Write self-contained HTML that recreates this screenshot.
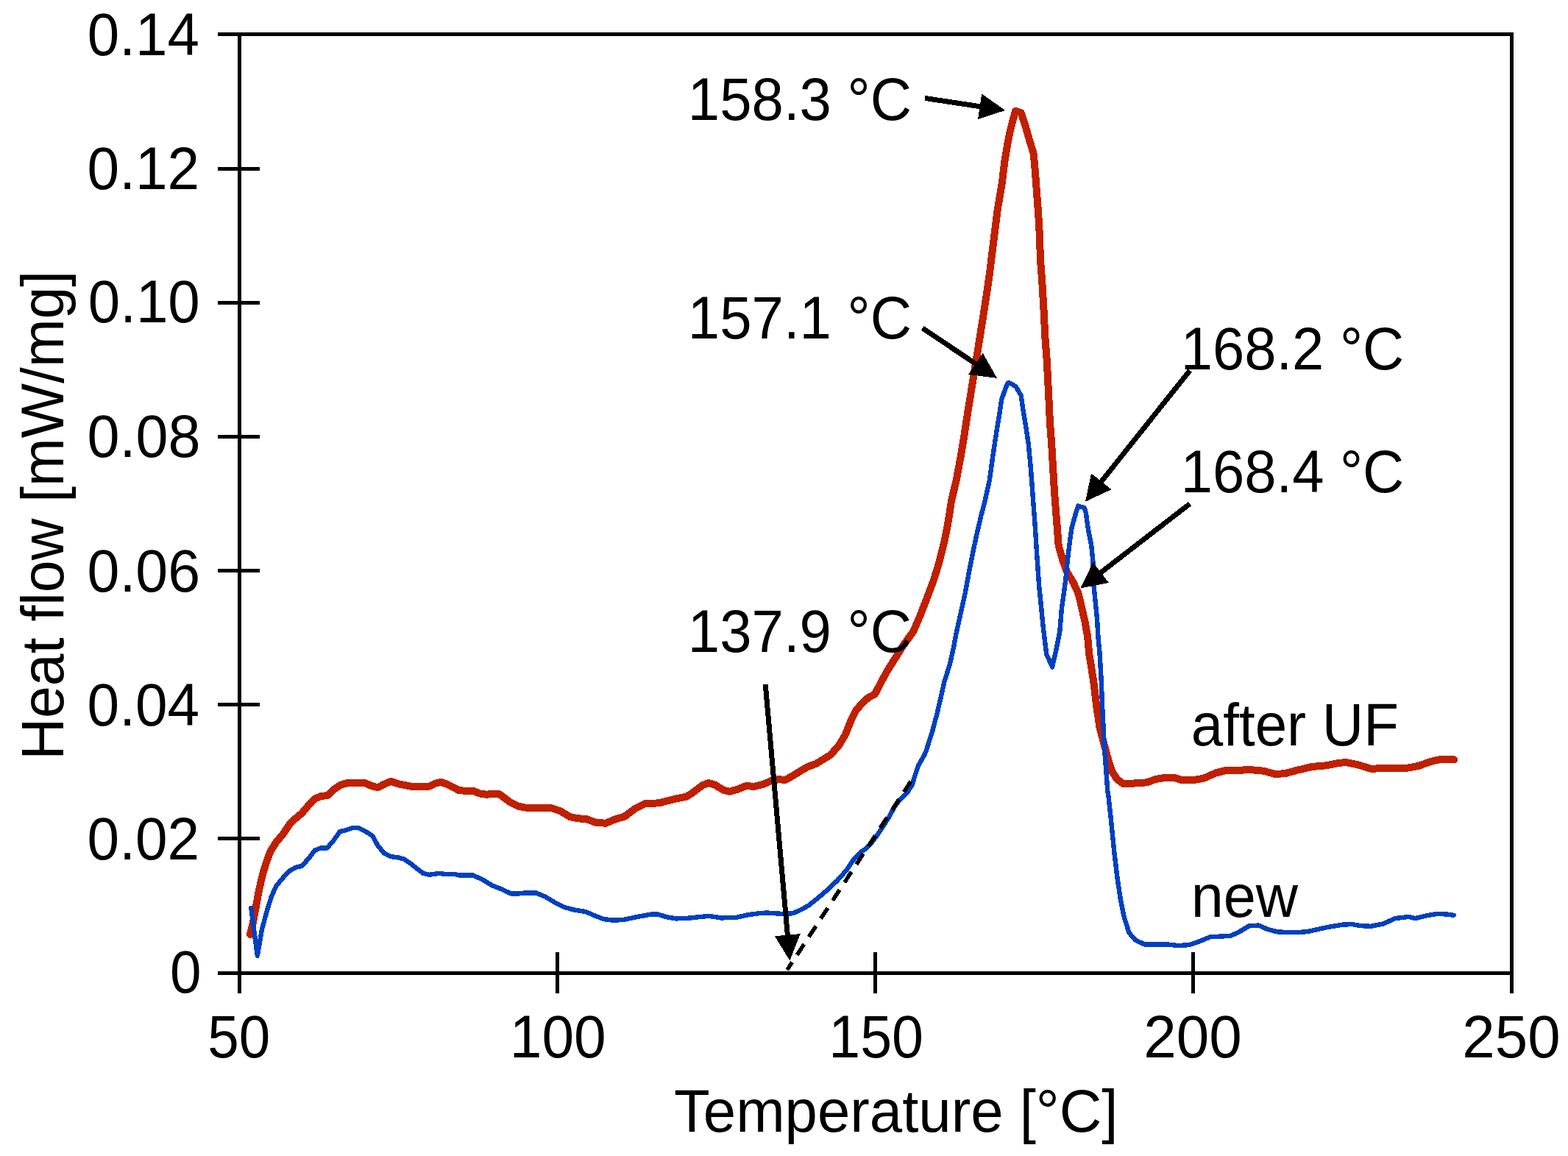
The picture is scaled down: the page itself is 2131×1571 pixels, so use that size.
<!DOCTYPE html>
<html lang="en">
<head>
<meta charset="utf-8">
<title>Heat flow vs. Temperature</title>
<style>
html,body{margin:0;padding:0;background:#fff;}
body{width:2131px;height:1571px;overflow:hidden;}
svg{display:block;}
text{font-family:"Liberation Sans", Arial, Helvetica, sans-serif;font-size:80px;fill:#000;}
</style>
</head>
<body>
<svg width="2131" height="1571" viewBox="0 0 2131 1571">
<rect x="0" y="0" width="2131" height="1571" fill="#ffffff"/>
<g shape-rendering="crispEdges" fill="#000">
<rect x="296" y="44" width="1761" height="5"/>
<rect x="296" y="1320" width="1761" height="5"/>
<rect x="323" y="44" width="5" height="1306"/>
<rect x="2052" y="44" width="5" height="1306"/>
<rect x="296" y="227" width="57" height="5"/>
<rect x="296" y="409" width="57" height="5"/>
<rect x="296" y="591" width="57" height="5"/>
<rect x="296" y="773" width="57" height="5"/>
<rect x="296" y="955" width="57" height="5"/>
<rect x="296" y="1137" width="57" height="5"/>
<rect x="755" y="1294" width="5" height="56"/>
<rect x="1187" y="1294" width="5" height="56"/>
<rect x="1619" y="1294" width="5" height="56"/>
</g>
<g shape-rendering="crispEdges">
<polyline points="340.0,1270.0 343.6,1254.8 347.2,1236.2 350.8,1216.1 354.4,1199.0 358.0,1184.6 363.0,1168.9 368.0,1156.0 375.9,1143.8 384.4,1133.8 393.0,1120.9 401.6,1112.3 410.2,1105.2 418.8,1095.1 427.4,1085.8 436.0,1082.2 446.0,1080.8 454.6,1072.2 463.2,1066.5 471.8,1064.3 481.8,1063.6 496.1,1064.1 504.7,1067.9 513.3,1070.4 521.9,1065.8 531.2,1061.8 540.5,1065.1 549.1,1066.9 557.7,1068.6 583.5,1068.6 592.1,1064.6 599.2,1062.9 607.8,1065.8 624.3,1074.4 643.0,1074.8 653.0,1078.7 661.6,1079.8 668.7,1078.7 678.8,1079.4 693.1,1090.1 704.5,1095.9 714.6,1097.6 748.9,1098.0 761.8,1102.3 774.7,1110.2 786.2,1112.3 797.6,1113.3 809.1,1117.6 823.4,1118.8 834.9,1113.8 849.2,1109.5 863.5,1098.7 876.4,1092.3 895.8,1091.3 918.7,1085.5 933.0,1082.7 941.6,1077.2 954.5,1067.2 963.1,1064.1 971.7,1066.5 983.1,1073.7 991.7,1075.8 1001.7,1072.9 1013.2,1068.4 1026.1,1068.6 1037.5,1065.8 1049.0,1060.8 1057.6,1059.3 1067.6,1059.8 1077.6,1054.3 1087.6,1047.9 1097.7,1042.1 1109.1,1037.9 1115.8,1033.9 1128.6,1026.0 1140.1,1013.1 1148.7,998.8 1157.3,977.3 1163.0,965.9 1171.6,955.8 1180.2,948.0 1188.8,943.7 1197.4,927.2 1206.0,911.5 1212.9,900.5 1227.3,877.6 1241.6,857.6 1250.2,837.5 1260.2,811.7 1268.8,788.8 1275.9,765.9 1283.1,737.3 1287.4,715.8 1291.0,694.3 1293.1,680.0 1299.6,653.3 1306.2,617.5 1310.9,588.9 1315.3,560.2 1319.9,531.6 1324.5,503.0 1328.0,481.5 1331.1,462.0 1335.7,433.3 1341.2,397.5 1345.3,368.9 1348.8,340.2 1352.4,311.6 1356.0,283.0 1360.2,258.6 1362.0,247.5 1365.4,218.9 1369.0,197.4 1372.6,178.8 1376.2,164.5 1380.0,151.0 1387.5,153.0 1393.3,170.2 1399.0,190.2 1404.7,208.9 1406.9,233.2 1409.0,261.8 1411.2,290.5 1412.6,315.0 1414.1,354.6 1416.3,383.2 1418.4,419.0 1420.6,462.0 1422.7,488.6 1424.9,531.6 1427.0,574.6 1429.2,603.2 1431.3,639.0 1433.0,668.6 1435.8,704.4 1438.7,741.7 1444.4,761.7 1450.2,777.5 1458.8,791.8 1465.9,807.5 1470.2,826.2 1474.5,844.8 1478.1,865.0 1480.2,888.6 1486.0,924.4 1490.3,960.2 1494.6,988.9 1500.3,1010.4 1506.0,1031.8 1511.7,1049.0 1518.2,1059.1 1526.1,1064.8 1537.5,1064.8 1559.0,1063.3 1570.5,1059.1 1580.5,1057.3 1596.2,1056.9 1604.8,1059.8 1622.0,1060.2 1636.3,1057.6 1652.1,1050.5 1666.4,1046.9 1685.8,1046.7 1698.7,1046.0 1717.3,1047.7 1731.6,1051.7 1745.9,1051.4 1763.1,1046.7 1783.2,1042.0 1803.2,1040.2 1817.5,1037.4 1828.3,1035.9 1846.2,1039.5 1863.4,1044.8 1886.3,1043.8 1909.2,1044.3 1927.8,1041.0 1943.5,1035.2 1957.6,1032.0 1976.2,1032.3" fill="none" stroke="#c02000" stroke-width="10" stroke-linejoin="round" stroke-linecap="round"/>
<polyline points="341.3,1234.0 349.8,1299.0 355.8,1264.0 362.0,1240.5 368.7,1219.0 375.0,1204.7 383.0,1194.7 393.0,1183.9 401.6,1178.9 410.2,1176.8 418.8,1167.5 427.4,1156.0 436.0,1152.4 444.6,1152.4 453.2,1142.4 461.8,1130.2 470.4,1128.1 479.0,1125.2 487.5,1125.2 496.1,1129.5 506.2,1135.9 513.3,1148.8 521.9,1159.6 530.5,1163.9 540.5,1165.3 549.1,1167.5 557.7,1173.2 566.3,1180.3 574.9,1186.8 583.5,1188.9 596.4,1186.8 606.4,1188.2 618.6,1188.2 624.3,1189.6 643.0,1189.6 655.9,1195.4 668.7,1203.3 681.6,1208.3 694.5,1214.4 704.5,1214.4 714.6,1213.3 728.9,1213.6 741.8,1219.0 754.7,1226.9 766.1,1232.6 779.0,1236.2 796.2,1239.1 809.1,1244.8 820.5,1249.1 832.0,1250.5 846.3,1250.2 864.9,1246.2 885.0,1242.6 894.3,1242.6 905.8,1246.2 918.7,1248.4 937.3,1247.6 963.1,1244.8 980.2,1247.4 1000.3,1246.9 1017.5,1243.1 1031.8,1241.2 1041.8,1240.5 1063.3,1241.9 1077.6,1241.2 1087.6,1236.9 1099.1,1230.5 1110.6,1221.2 1123.4,1210.4 1137.8,1196.8 1150.5,1182.5 1162.0,1165.6 1169.6,1158.0 1178.2,1152.3 1185.8,1143.7 1193.5,1133.2 1201.1,1121.7 1208.8,1109.3 1215.5,1096.9 1223.1,1086.4 1232.6,1077.8 1239.6,1066.6 1243.7,1053.5 1248.1,1040.2 1255.9,1026.8 1258.8,1020.1 1264.8,1001.0 1267.0,994.6 1270.7,980.0 1273.1,971.7 1278.4,948.8 1283.6,925.8 1290.9,902.9 1296.0,880.0 1299.3,862.2 1306.0,831.6 1311.7,806.0 1317.5,774.5 1323.2,745.9 1328.2,723.0 1333.2,701.5 1338.2,682.5 1344.7,653.3 1349.7,617.5 1354.0,588.9 1357.6,567.4 1361.2,543.1 1366.2,528.7 1369.7,520.5 1371.9,520.3 1380.5,525.2 1387.6,537.3 1390.5,557.4 1394.8,583.2 1397.7,603.2 1400.5,631.8 1402.7,660.5 1404.3,683.0 1406.3,708.6 1409.1,751.6 1412.0,794.6 1414.9,823.2 1417.7,851.8 1422.2,889.0 1430.1,906.5 1435.4,883.0 1440.1,860.0 1443.0,826.2 1448.0,790.4 1451.6,754.6 1454.5,731.6 1456.6,717.3 1460.9,701.6 1465.2,687.6 1473.8,690.1 1475.9,697.3 1478.8,718.8 1483.1,740.2 1485.3,761.7 1486.7,797.5 1488.8,819.0 1491.0,840.5 1492.4,865.0 1494.6,888.6 1496.7,924.4 1498.1,960.2 1499.6,988.9 1501.0,1017.5 1503.2,1046.2 1505.3,1074.8 1506.5,1082.0 1510.1,1115.8 1514.4,1158.8 1518.7,1194.6 1523.0,1223.2 1527.3,1244.7 1534.4,1267.6 1543.0,1277.6 1555.9,1283.6 1568.8,1283.6 1586.0,1283.4 1601.7,1285.1 1616.0,1284.1 1628.9,1279.8 1644.7,1273.3 1671.9,1271.9 1683.4,1266.9 1697.7,1258.3 1710.6,1257.6 1722.0,1262.6 1734.9,1266.2 1752.1,1267.3 1766.4,1266.9 1777.2,1266.0 1803.0,1260.3 1824.4,1256.7 1837.3,1256.0 1848.8,1258.1 1863.1,1258.8 1880.3,1255.3 1896.0,1248.1 1914.7,1245.9 1923.3,1248.1 1939.0,1244.2 1951.9,1242.1 1966.2,1242.4 1975.5,1243.8" fill="none" stroke="#0040c0" stroke-width="6.4" stroke-linejoin="round" stroke-linecap="round"/>
<line x1="1237.9" y1="1061.8" x2="1069.8" y2="1318.1" stroke="#000" stroke-width="5.5" stroke-dasharray="17.3 12.12"/>
<line x1="1257.0" y1="133.4" x2="1333.6" y2="145.0" stroke="#000" stroke-width="7"/>
<polygon points="1366.2,150.0 1329.0,162.0 1334.2,127.4" fill="#000"/>
<line x1="1253.8" y1="446.0" x2="1327.6" y2="495.5" stroke="#000" stroke-width="7"/>
<polygon points="1355.0,513.9 1316.2,508.9 1335.7,479.9" fill="#000"/>
<line x1="1617.1" y1="503.4" x2="1495.6" y2="655.9" stroke="#000" stroke-width="7"/>
<polygon points="1475.0,681.7 1483.1,643.4 1510.5,665.2" fill="#000"/>
<line x1="1617.0" y1="684.7" x2="1494.6" y2="779.2" stroke="#000" stroke-width="7"/>
<polygon points="1468.5,799.4 1485.5,764.2 1506.9,791.9" fill="#000"/>
<line x1="1040.2" y1="930.0" x2="1070.5" y2="1272.6" stroke="#000" stroke-width="7"/>
<polygon points="1073.4,1305.5 1052.9,1272.2 1087.7,1269.1" fill="#000"/>
</g>
<g>
<text transform="translate(118.87,75.00) scale(0.9760,1.03)">0.14</text>
<text transform="translate(118.56,257.00) scale(0.9799,1.03)">0.12</text>
<text transform="translate(119.77,438.20) scale(0.9767,1.03)">0.10</text>
<text transform="translate(118.53,620.90) scale(0.9893,1.03)">0.08</text>
<text transform="translate(118.54,803.80) scale(0.9866,1.03)">0.06</text>
<text transform="translate(118.56,985.80) scale(0.9800,1.03)">0.04</text>
<text transform="translate(118.56,1168.00) scale(0.9799,1.03)">0.02</text>
<text transform="translate(230.93,1349.20) scale(0.9553,1.03)">0</text>
<text transform="translate(282.13,1437.00) scale(0.9554,1.03)">50</text>
<text transform="translate(692.82,1437.00) scale(0.9806,1.03)">100</text>
<text transform="translate(1126.21,1437.00) scale(0.9653,1.03)">150</text>
<text transform="translate(1554.30,1437.00) scale(1.0008,1.03)">200</text>
<text transform="translate(1987.30,1437.00) scale(0.9992,1.03)">250</text>
<text transform="translate(916.01,1538.00) scale(0.9967,1.025)">Temperature [°C]</text>
<text transform="translate(85.80,1032.79) rotate(-90) scale(0.9842,1.025)">Heat flow [mW/mg]</text>
<text transform="translate(934.85,163.00) scale(0.9746,1.03)">158.3 °C</text>
<text transform="translate(934.85,460.20) scale(0.9746,1.03)">157.1 °C</text>
<text transform="translate(934.85,886.00) scale(0.9746,1.03)">137.9 °C</text>
<text transform="translate(1604.87,501.80) scale(0.9716,1.03)">168.2 °C</text>
<text transform="translate(1604.77,668.80) scale(0.9723,1.03)">168.4 °C</text>
<text transform="translate(1618.87,1012.90) scale(0.9763,1.025)">after UF</text>
<text transform="translate(1618.65,1246.10) scale(0.9908,1.01)">new</text>
</g>
</svg>
</body>
</html>
